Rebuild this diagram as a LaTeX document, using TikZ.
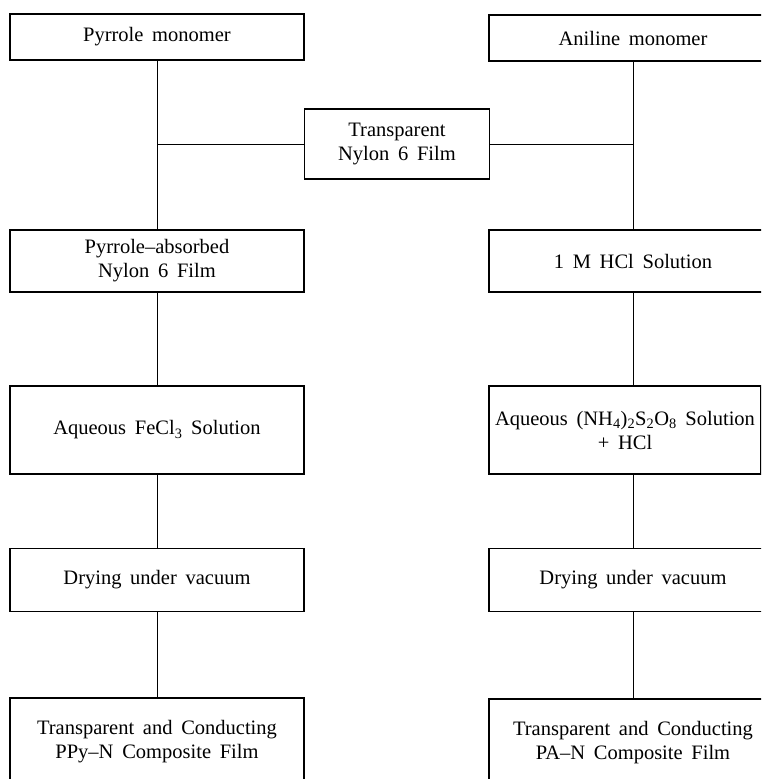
\documentclass[tikz,border=0pt]{standalone}
\usepackage{fontspec}
\setmainfont[WordSpace=1.7]{Liberation Serif}
\begin{document}
\begin{tikzpicture}[x=1pt,y=-1pt,line width=0.6pt,
  every node/.style={draw,line width=1.3pt,align=center,inner sep=0pt,font=\fontsize{20.5}{24}\selectfont},
  lbox/.style={minimum width=294pt},
  rbox/.style={minimum width=288pt}]
  \path[use as bounding box,clip] (0,0) rectangle (761,779);
  \node[lbox,minimum height=46pt] (pm) at (157,37) {Pyrrole monomer};
  \node[rbox,minimum height=46pt] (am) at (633,38) {Aniline monomer};
  \node[minimum width=185pt,minimum height=70pt] (ny) at (397,144) {Transparent\\Nylon 6 Film};
  \node[lbox,minimum height=62pt] (pa) at (157,261) {Pyrrole--absorbed\\Nylon 6 Film};
  \node[rbox,minimum height=62pt] (hc) at (633,261) {1 M HCl Solution};
  \node[lbox,minimum height=88pt] (fe) at (157,430) {Aqueous FeCl\textsubscript{3} Solution};
  \node[minimum width=272pt,minimum height=88pt] (ap) at (625,430) {Aqueous (NH\textsubscript{4})\textsubscript{2}S\textsubscript{2}O\textsubscript{8} Solution\\+ HCl};
  \node[lbox,minimum height=63pt] (dl) at (157,580) {Drying under vacuum};
  \node[rbox,minimum height=63pt] (dr) at (633,580) {Drying under vacuum};
  \node[lbox,minimum height=88pt] (cl) at (157,742) {Transparent and Conducting\\PPy--N Composite Film};
  \node[rbox,minimum height=88pt] (cr) at (633,743) {Transparent and Conducting\\PA--N Composite Film};
  \draw (pm)--(pa)--(fe)--(dl)--(cl);
  \draw (am)--(hc);
  \draw (hc.south)--(hc.south |- ap.north);
  \draw (dr.north |- ap.south)--(dr.north);
  \draw (dr)--(cr);
  \draw (ny.west)--(ny.west -| pm.south);
  \draw (ny.east)--(ny.east -| am.south);
\end{tikzpicture}
\end{document}
